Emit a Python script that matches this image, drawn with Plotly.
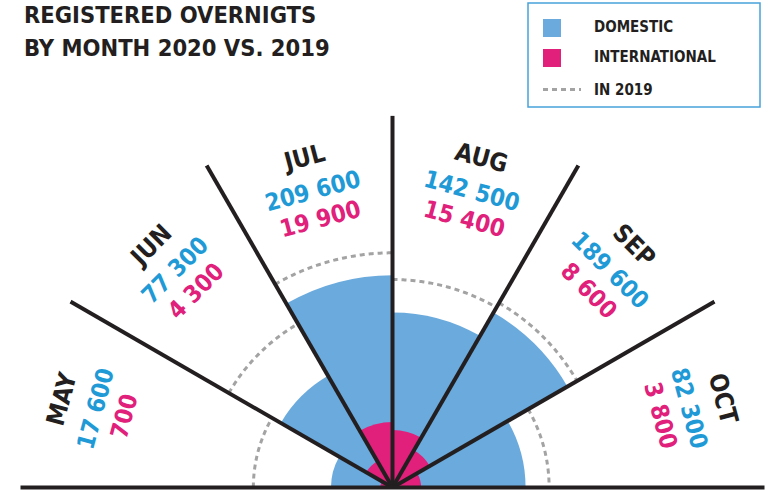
import numpy as np
import plotly.graph_objects as go

# ---------------- data ----------------
months = ["MAY", "JUN", "JUL", "AUG", "SEP", "OCT"]
domestic = [17600, 77300, 209600, 142500, 189600, 82300]
international = [700, 4300, 19900, 15400, 8600, 3800]
in_2019 = [90000, 166000, 256000, 201000, 211000, 114000]

title_lines = ["REGISTERED OVERNIGTS", "BY MONTH 2020 VS. 2019"]
legend_names = ["DOMESTIC", "INTERNATIONAL", "IN 2019"]

# ---------------- style / geometry ----------------
W, H = 769, 490
CX, CY = 392.5, 487.5      # polar centre in px (from top-left)
RPX = 372                  # polar radius in px
R_MAX = 802                # radial range (sqrt of overnights)
SECTOR_START, SECTOR_STEP = 180, 30

BLUE = "#6aaadd"
BLUE_TXT = "#1f9ad6"
PINK = "#e0207a"
BLACK = "#231f20"
GREY = "#a3a3a3"
FRAME = "#45a3dc"

FONT = "DejaVu Sans Condensed, DejaVu Sans, sans-serif"

n = len(months)
theta_c = [SECTOR_START - SECTOR_STEP * (i + 0.5) for i in range(n)]
bounds = [SECTOR_START - SECTOR_STEP * i for i in range(n + 1)]

def fmt(v):
    return f"{v:,}".replace(",", " ")

fig = go.Figure()

fig.add_trace(go.Barpolar(
    r=np.sqrt(domestic), theta=theta_c, width=SECTOR_STEP,
    marker=dict(color=BLUE, line=dict(width=0)), name=legend_names[0],
    showlegend=False))
fig.add_trace(go.Barpolar(
    r=np.sqrt(international), theta=theta_c, width=SECTOR_STEP,
    marker=dict(color=PINK, line=dict(width=0)), name=legend_names[1],
    showlegend=False))

# 2019 arcs
arc_r, arc_t = [], []
for i, v in enumerate(in_2019):
    ts = np.linspace(bounds[i], bounds[i + 1], 91)
    arc_t += list(ts) + [None]
    arc_r += [np.sqrt(v)] * len(ts) + [None]
fig.add_trace(go.Scatterpolar(
    r=arc_r, theta=arc_t, mode="lines", connectgaps=False,
    line=dict(color=GREY, width=3, dash="5px,4px"), name=legend_names[2],
    showlegend=False))

# dividers
div_r, div_t = [], []
for b in bounds[1:-1]:
    div_r += [0, R_MAX, None]
    div_t += [b, b, None]
fig.add_trace(go.Scatterpolar(
    r=div_r, theta=div_t, mode="lines", connectgaps=False,
    line=dict(color=BLACK, width=4), showlegend=False, hoverinfo="skip"))

# ---------------- labels ----------------
def to_paper(rho, theta):
    px = CX + rho * np.cos(np.radians(theta))
    py = CY - rho * np.sin(np.radians(theta))
    return px / W, 1 - py / H

annotations = []
for i in range(n):
    th = theta_c[i]
    ang = 90 - th
    for rho, txt, col, size in [
        (342, months[i], BLACK, 25),
        (307, fmt(domestic[i]), BLUE_TXT, 24),
        (278, fmt(international[i]), PINK, 24),
    ]:
        x, y = to_paper(rho, th)
        annotations.append(dict(
            x=x, y=y, xref="paper", yref="paper", text=txt, showarrow=False,
            textangle=ang, xanchor="center", yanchor="middle",
            font=dict(family=FONT, size=size, color=col, weight=700)))

# title
for k, (line, yc) in enumerate(zip(title_lines, [15, 48.5])):
    annotations.append(dict(
        x=22 / W, y=1 - yc / H, xref="paper", yref="paper", text=line,
        showarrow=False, xanchor="left", yanchor="middle",
        font=dict(family=FONT, size=23.5, color=BLACK, weight=700)))

# legend (manual)
leg_y = [27, 57, 90]
for name, yc in zip(legend_names, leg_y):
    annotations.append(dict(
        x=592 / W, y=1 - yc / H, xref="paper", yref="paper", text=name,
        showarrow=False, xanchor="left", yanchor="middle",
        font=dict(family=FONT, size=15, color=BLACK, weight=700)))

def px_rect(x0, y0, x1, y1, **kw):
    return dict(type="rect", xref="paper", yref="paper",
                x0=x0 / W, x1=x1 / W, y0=1 - y1 / H, y1=1 - y0 / H, **kw)

shapes = [
    px_rect(528, 3, 760, 107, line=dict(color=FRAME, width=1.5), fillcolor="rgba(0,0,0,0)"),
    px_rect(543, 19, 561, 37, line=dict(width=0), fillcolor=BLUE),
    px_rect(543, 49, 561, 67, line=dict(width=0), fillcolor=PINK),
    dict(type="line", xref="paper", yref="paper", x0=543 / W, x1=581 / W,
         y0=1 - 89.5 / H, y1=1 - 89.5 / H, line=dict(color=GREY, width=3, dash="5px,4px")),
    # baseline (0 and 180 degree boundaries)
    dict(type="line", xref="paper", yref="paper", layer="above",
         x0=(CX - RPX) / W, x1=(CX + RPX) / W, y0=(H - CY) / H, y1=(H - CY) / H,
         line=dict(color=BLACK, width=4)),
]

fig.update_layout(
    width=W, height=H, autosize=False,
    margin=dict(l=0, r=0, t=0, b=0),
    paper_bgcolor="white", plot_bgcolor="white",
    showlegend=False,
    polar=dict(
        domain=dict(x=[(CX - RPX) / W, (CX + RPX) / W],
                    y=[(H - CY) / H, (H - CY + RPX) / H]),
        sector=[0, 180], bgcolor="white", hole=0, barmode="overlay",
        radialaxis=dict(visible=False, range=[0, R_MAX]),
        angularaxis=dict(visible=False),
    ),
    annotations=annotations, shapes=shapes,
)

fig.write_html("out.html", config={"displayModeBar": False},
               post_script="document.body.style.margin='0';document.body.style.overflow='hidden';")
